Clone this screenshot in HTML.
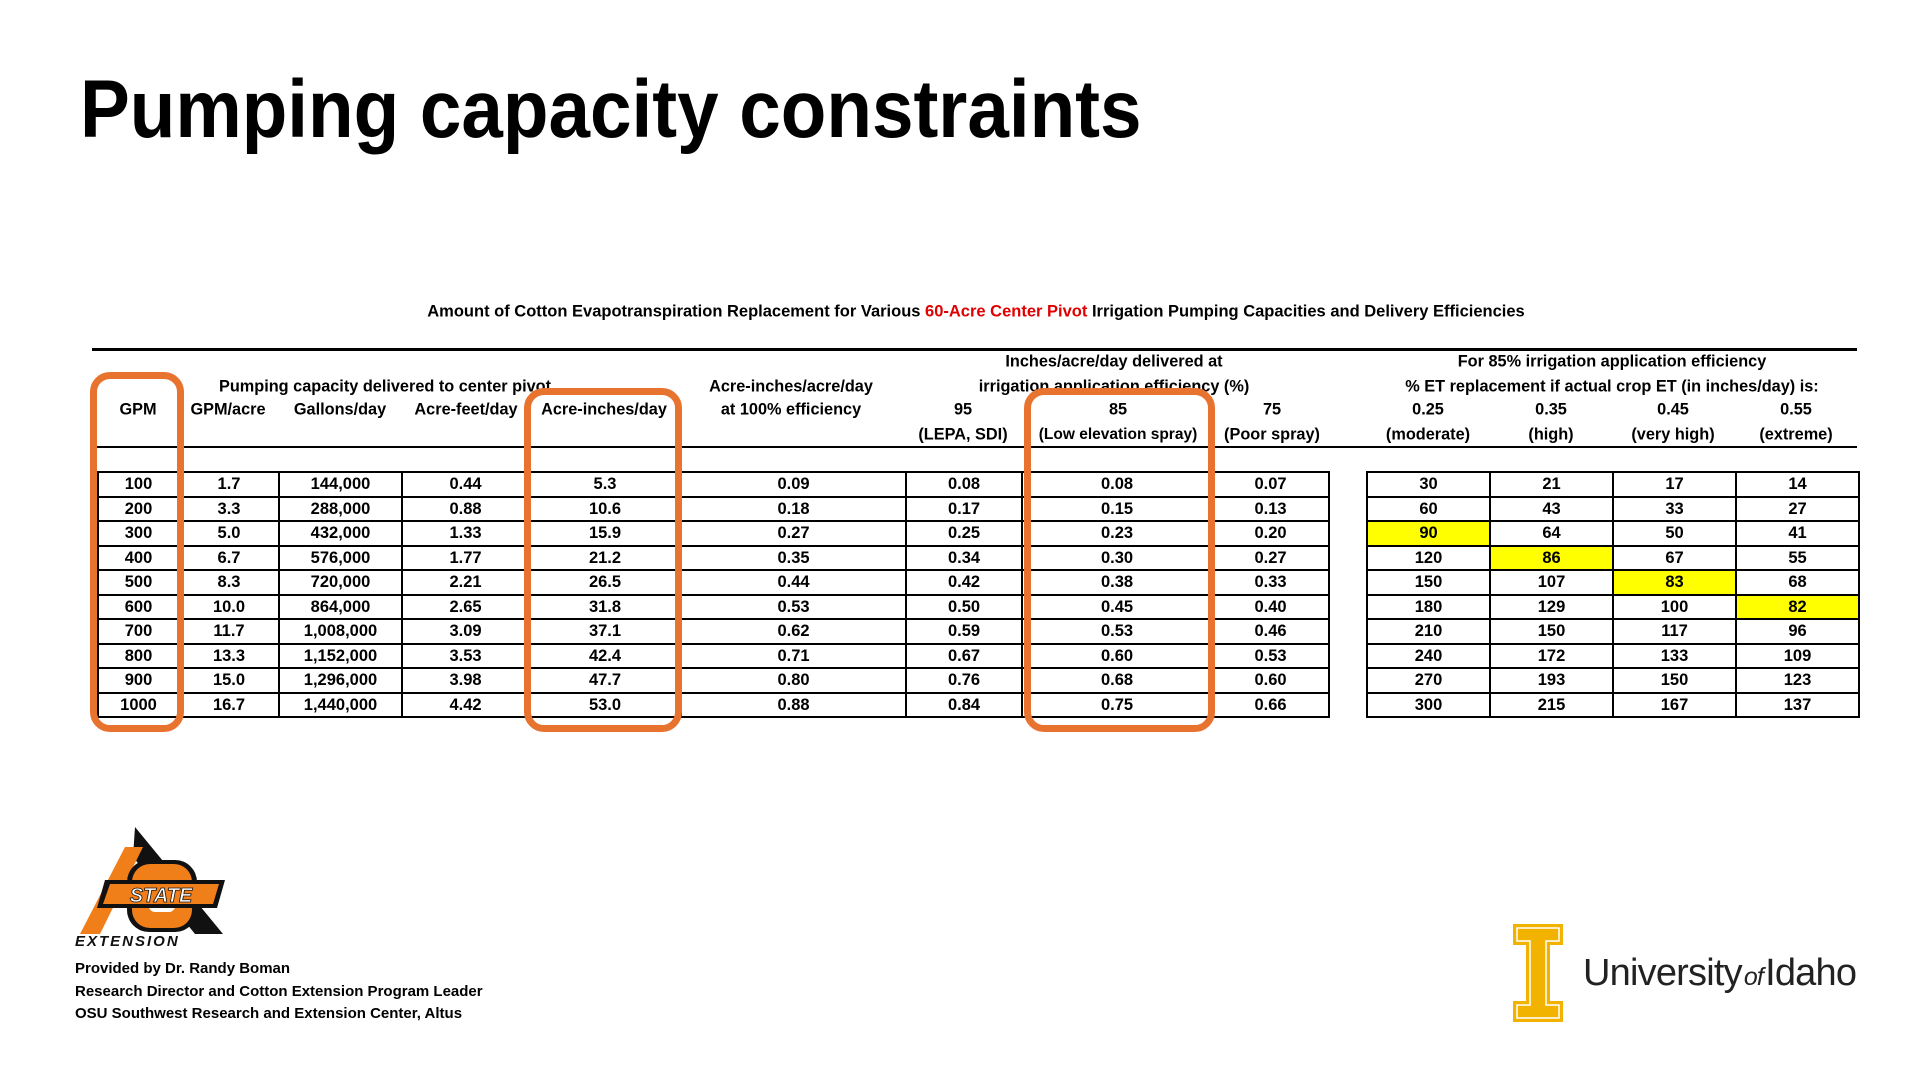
<!DOCTYPE html>
<html><head><meta charset="utf-8">
<style>
*{margin:0;padding:0;box-sizing:border-box}
body{width:1920px;height:1080px;background:#fff;position:relative;overflow:hidden;font-family:"Liberation Sans",sans-serif;color:#000}
.a{position:absolute;white-space:nowrap}
.h{position:absolute;white-space:nowrap;font-weight:bold;font-size:16.3px;transform:translate(-50%,-50%)}
table{position:absolute;border-collapse:collapse;table-layout:fixed}
td{border:2px solid #000;height:24.5px;text-align:center;font-weight:bold;font-size:16.5px;padding:0;line-height:20px}
.y{background:#ffff00}
.box{position:absolute;border:7px solid #E8732F;border-radius:20px}
</style></head><body>
<div class="a" style="left:80px;top:62px;font-size:82px;font-weight:bold;transform:scaleX(0.91);transform-origin:left top;line-height:96px">Pumping capacity constraints</div>

<div class="h" style="left:976px;top:312px;font-size:16.5px">Amount of Cotton Evapotranspiration Replacement for Various <span style="color:#e00000">60-Acre Center Pivot</span> Irrigation Pumping Capacities and Delivery Efficiencies</div>
<div class="a" style="left:92px;top:348px;width:1765px;height:3px;background:#000"></div>
<div class="a" style="left:97px;top:446px;width:1760px;height:2px;background:#000"></div>

<div class="h" style="left:1114px;top:362px">Inches/acre/day delivered at</div>
<div class="h" style="left:1612px;top:362px">For 85% irrigation application efficiency</div>
<div class="h" style="left:385px;top:387px">Pumping capacity delivered to center pivot</div>
<div class="h" style="left:791px;top:387px">Acre-inches/acre/day</div>
<div class="h" style="left:1114px;top:387px">irrigation application efficiency (%)</div>
<div class="h" style="left:1612px;top:387px">% ET replacement if actual crop ET (in inches/day) is:</div>
<div class="h" style="left:138px;top:410px">GPM</div>
<div class="h" style="left:228px;top:410px">GPM/acre</div>
<div class="h" style="left:340px;top:410px">Gallons/day</div>
<div class="h" style="left:466px;top:410px">Acre-feet/day</div>
<div class="h" style="left:604px;top:410px">Acre-inches/day</div>
<div class="h" style="left:791px;top:410px">at 100% efficiency</div>
<div class="h" style="left:963px;top:410px">95</div>
<div class="h" style="left:1118px;top:410px">85</div>
<div class="h" style="left:1272px;top:410px">75</div>
<div class="h" style="left:1428px;top:410px">0.25</div>
<div class="h" style="left:1551px;top:410px">0.35</div>
<div class="h" style="left:1673px;top:410px">0.45</div>
<div class="h" style="left:1796px;top:410px">0.55</div>
<div class="h" style="left:963px;top:435px">(LEPA, SDI)</div>
<div class="h" style="left:1118px;top:435px;font-size:15.5px">(Low elevation spray)</div>
<div class="h" style="left:1272px;top:435px">(Poor spray)</div>
<div class="h" style="left:1428px;top:435px">(moderate)</div>
<div class="h" style="left:1551px;top:435px">(high)</div>
<div class="h" style="left:1673px;top:435px">(very high)</div>
<div class="h" style="left:1796px;top:435px">(extreme)</div>

<table style="left:97px;top:471px;width:1231px">
<colgroup><col style="width:81px"><col style="width:100px"><col style="width:123px"><col style="width:127px"><col style="width:152px"><col style="width:225px"><col style="width:116px"><col style="width:190px"><col style="width:117px"></colgroup>
<tr><td>100</td><td>1.7</td><td>144,000</td><td>0.44</td><td>5.3</td><td>0.09</td><td>0.08</td><td>0.08</td><td>0.07</td></tr>
<tr><td>200</td><td>3.3</td><td>288,000</td><td>0.88</td><td>10.6</td><td>0.18</td><td>0.17</td><td>0.15</td><td>0.13</td></tr>
<tr><td>300</td><td>5.0</td><td>432,000</td><td>1.33</td><td>15.9</td><td>0.27</td><td>0.25</td><td>0.23</td><td>0.20</td></tr>
<tr><td>400</td><td>6.7</td><td>576,000</td><td>1.77</td><td>21.2</td><td>0.35</td><td>0.34</td><td>0.30</td><td>0.27</td></tr>
<tr><td>500</td><td>8.3</td><td>720,000</td><td>2.21</td><td>26.5</td><td>0.44</td><td>0.42</td><td>0.38</td><td>0.33</td></tr>
<tr><td>600</td><td>10.0</td><td>864,000</td><td>2.65</td><td>31.8</td><td>0.53</td><td>0.50</td><td>0.45</td><td>0.40</td></tr>
<tr><td>700</td><td>11.7</td><td>1,008,000</td><td>3.09</td><td>37.1</td><td>0.62</td><td>0.59</td><td>0.53</td><td>0.46</td></tr>
<tr><td>800</td><td>13.3</td><td>1,152,000</td><td>3.53</td><td>42.4</td><td>0.71</td><td>0.67</td><td>0.60</td><td>0.53</td></tr>
<tr><td>900</td><td>15.0</td><td>1,296,000</td><td>3.98</td><td>47.7</td><td>0.80</td><td>0.76</td><td>0.68</td><td>0.60</td></tr>
<tr><td>1000</td><td>16.7</td><td>1,440,000</td><td>4.42</td><td>53.0</td><td>0.88</td><td>0.84</td><td>0.75</td><td>0.66</td></tr>
</table>

<table style="left:1366px;top:471px;width:492px">
<colgroup><col style="width:123px"><col style="width:123px"><col style="width:123px"><col style="width:123px"></colgroup>
<tr><td>30</td><td>21</td><td>17</td><td>14</td></tr>
<tr><td>60</td><td>43</td><td>33</td><td>27</td></tr>
<tr><td class="y">90</td><td>64</td><td>50</td><td>41</td></tr>
<tr><td>120</td><td class="y">86</td><td>67</td><td>55</td></tr>
<tr><td>150</td><td>107</td><td class="y">83</td><td>68</td></tr>
<tr><td>180</td><td>129</td><td>100</td><td class="y">82</td></tr>
<tr><td>210</td><td>150</td><td>117</td><td>96</td></tr>
<tr><td>240</td><td>172</td><td>133</td><td>109</td></tr>
<tr><td>270</td><td>193</td><td>150</td><td>123</td></tr>
<tr><td>300</td><td>215</td><td>167</td><td>137</td></tr>
</table>

<div class="box" style="left:90px;top:372px;width:94px;height:360px"></div>
<div class="box" style="left:524px;top:388px;width:158px;height:344px"></div>
<div class="box" style="left:1024px;top:388px;width:191px;height:344px"></div>

<svg class="a" style="left:75px;top:822px" width="160" height="128" viewBox="0 0 160 128">
<polygon points="60,5 148,112 120,112 58,35" fill="#111"/>
<polygon points="50,25 68,25 25,112 5,112" fill="#f07f1a"/>
<rect x="52" y="38" width="70" height="72" rx="22" fill="#111"/>
<rect x="57" y="42" width="60" height="64" rx="18" fill="#f07f1a"/>
<rect x="74" y="58" width="26" height="32" rx="6" fill="#fff"/>
<polygon points="30,58 150,58 142,86 22,86" fill="#111"/>
<polygon points="35,62 144,62 138,82 28,82" fill="#f07f1a"/>
<text x="86" y="80" font-family="Liberation Sans" font-weight="bold" font-style="italic" font-size="20" fill="#fff" stroke="#111" stroke-width="0.8" text-anchor="middle">STATE</text>
<text x="0" y="124" font-family="Liberation Sans" font-weight="bold" font-style="italic" font-size="15" letter-spacing="2" fill="#111">EXTENSION</text>
</svg>
<div class="a" style="left:75px;top:958px;font-size:15px;font-weight:bold;line-height:22.5px">Provided by Dr. Randy Boman<br>Research Director and Cotton Extension Program Leader<br>OSU Southwest Research and Extension Center, Altus</div>

<svg class="a" style="left:1512px;top:923px" width="52" height="100" viewBox="0 0 52 100">
<polygon points="1,1 51,1 51,22 38,22 38,78 51,78 51,99 1,99 1,78 14,78 14,22 1,22" fill="#F1B300"/>
<polygon points="5,5 47,5 47,18 34,18 34,82 47,82 47,95 5,95 5,82 18,82 18,18 5,18" fill="#F1B300" stroke="#fff" stroke-width="1.5"/>
</svg>
<div class="a" style="left:1583px;top:951px;font-size:38px;color:#222;line-height:44px;letter-spacing:-0.8px">University<span style="font-style:italic;font-size:25px;margin:0 2px">of</span>Idaho</div>
</body></html>
